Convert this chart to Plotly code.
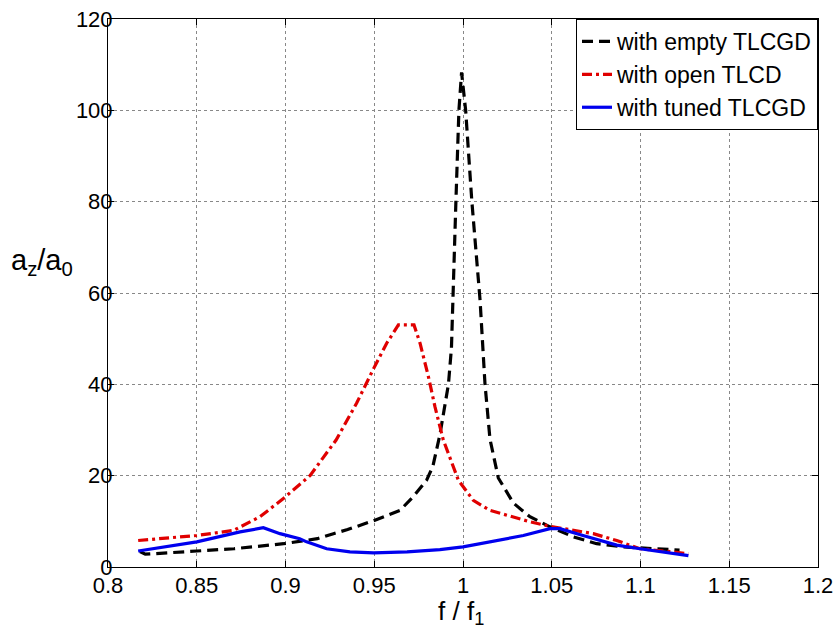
import plotly.graph_objects as go

# Data
x_empty = [0.818, 0.821, 0.85, 0.871, 0.899, 0.918, 0.927, 0.935, 0.95, 0.9645, 0.972, 0.9795,
           0.983, 0.987, 0.9918, 0.9935, 0.996, 0.9977, 0.9992, 1.0015, 1.005, 1.0096, 1.0124,
           1.0152, 1.0199, 1.0284, 1.0377, 1.049, 1.0622, 1.0753, 1.0903, 1.1185, 1.122]
y_empty = [3.4, 2.8, 3.5, 4.0, 5.1, 6.2, 7.3, 8.2, 10.2, 12.4, 15.4, 19.0,
           22.0, 29.0, 40.0, 48.0, 80.0, 100.0, 108.3, 100.0, 80.0, 58.5, 40.0,
           28.0, 19.5, 14.0, 11.0, 8.8, 6.6, 5.1, 4.4, 3.7, 3.7]

x_open = [0.817, 0.85, 0.8706, 0.8856, 0.8988, 0.91, 0.9138, 0.9285, 0.9401, 0.9497, 0.957,
          0.9636, 0.9724, 0.9758, 0.9805, 0.9842, 0.9889, 0.9974, 1.0058, 1.0152, 1.0246,
          1.0377, 1.049, 1.0622, 1.0734, 1.0866, 1.0997, 1.1185, 1.127]
y_open = [5.8, 6.9, 8.0, 11.0, 15.0, 18.6, 20.0, 27.8, 35.9, 43.5, 49.0,
          53.0, 53.0, 49.0, 41.7, 35.1, 27.8, 19.0, 14.6, 12.4, 11.3,
          9.9, 8.9, 8.0, 7.3, 5.8, 4.0, 3.3, 2.9]

x_tuned = [0.817, 0.85, 0.8744, 0.8875, 0.8969, 0.908, 0.9119, 0.9232, 0.9363, 0.9497, 0.9685,
           0.987, 1.0, 1.0152, 1.034, 1.049, 1.0546, 1.0676, 1.0866, 1.0997, 1.127]
y_tuned = [3.5, 5.5, 7.7, 8.6, 7.3, 6.2, 5.5, 4.0, 3.3, 3.1, 3.3,
           3.8, 4.4, 5.5, 6.9, 8.4, 8.4, 6.9, 4.8, 4.0, 2.5]

x_ticks = [0.8, 0.85, 0.9, 0.95, 1.0, 1.05, 1.1, 1.15, 1.2]
x_ticklabels = ["0.8", "0.85", "0.9", "0.95", "1", "1.05", "1.1", "1.15", "1.2"]
y_ticks = [0, 20, 40, 60, 80, 100, 120]

FONT = "Liberation Sans, Arial, sans-serif"

fig = go.Figure()
fig.add_trace(go.Scatter(x=x_empty, y=y_empty, mode="lines", name="with empty TLCGD",
                         line=dict(color="black", width=3.2, dash="11px,6px")))
fig.add_trace(go.Scatter(x=x_open, y=y_open, mode="lines", name="with open TLCD",
                         line=dict(color="#e00000", width=3.2, dash="10px,4px,3px,4px")))
fig.add_trace(go.Scatter(x=x_tuned, y=y_tuned, mode="lines", name="with tuned TLCGD",
                         line=dict(color="#0000ee", width=3.2)))

axis_common = dict(
    showline=True, linecolor="black", linewidth=1, mirror="ticks",
    ticks="inside", ticklen=6, tickcolor="black",
    showgrid=True, gridcolor="#888888", griddash="dot", gridwidth=1,
    zeroline=False, tickfont=dict(family=FONT, size=22, color="black"),
    automargin=False,
)

fig.update_xaxes(range=[0.8, 1.2], tickvals=x_ticks, ticktext=x_ticklabels, ticklabelstandoff=-1,
                 **axis_common)
fig.update_yaxes(range=[0, 120], tickvals=y_ticks, ticklabelstandoff=-10, **axis_common)

fig.add_annotation(text="a<sub>z</sub>/a<sub>0</sub>", xref="paper", yref="paper",
                   x=-0.093, y=0.556, xanchor="center", yanchor="middle", showarrow=False,
                   font=dict(family=FONT, size=29, color="black"))
fig.add_annotation(text="f / f<sub>1</sub>", xref="paper", yref="paper",
                   x=0.497, y=-0.05, xanchor="center", yanchor="top", showarrow=False,
                   font=dict(family=FONT, size=26, color="black"))

fig.update_layout(
    width=837, height=632,
    margin=dict(l=108, r=19, t=19, b=65, autoexpand=False),
    paper_bgcolor="white", plot_bgcolor="white",
    font=dict(family=FONT, color="black"),
    showlegend=True,
    legend=dict(x=1, y=1, xanchor="right", yanchor="top",
                bgcolor="white", bordercolor="black", borderwidth=1,
                font=dict(family=FONT, size=23, color="black"),
                tracegroupgap=0, itemwidth=30),
)

fig.write_html("out.html", config={"displayModeBar": False},
               post_script="document.body.style.margin='0px';")
